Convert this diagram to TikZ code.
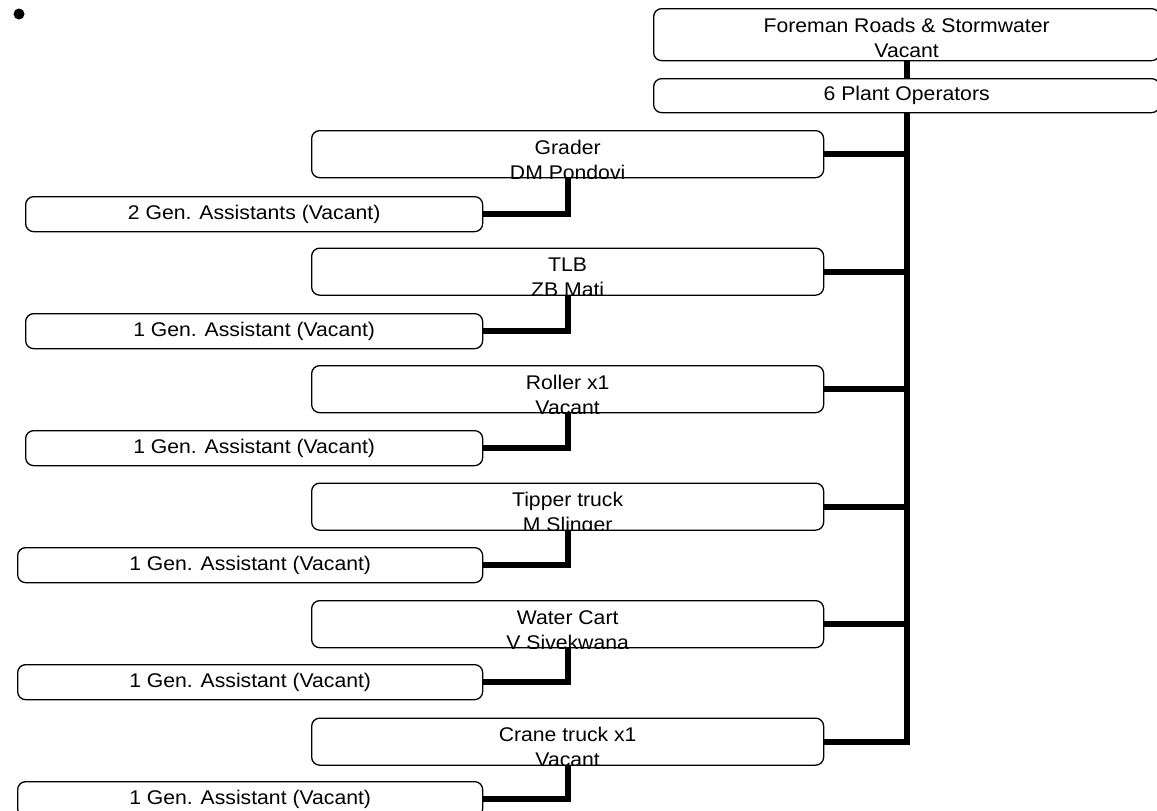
\documentclass[tikz,border=0pt]{standalone}
\usepackage{fontspec}
\setmainfont{Liberation Sans}[FakeStretch=1.07]
% two-line caption of an operator card, cut off by the card's lower edge
\newcommand\cardlines[3]{%
  \begin{scope}
    \clip (#1.north west) rectangle (#1.south east);
    \node[anchor=base, inner sep=0pt] at ([yshift=-24pt]#1.north) {#2};
    \node[anchor=base, inner sep=0pt] at ([yshift=-49pt]#1.north) {#3};
  \end{scope}}
\begin{document}
\begin{tikzpicture}[x=1pt, y=-1pt,
  font=\fontsize{19.8}{24}\selectfont,
  card/.style={draw, line width=1.3pt, rounded corners=8pt, inner sep=0pt, anchor=north west},
  opcard/.style={card, minimum width=512pt, minimum height=47pt},
  aide/.style={card, minimum width=#1, minimum height=35pt},
  link/.style={line width=6pt},
]
\useasboundingbox (0,0) rectangle (1157,811);

\node[circle, fill, inner sep=0pt, minimum size=11pt] (dot) at (19,14) {};

% head of section
\node[card, minimum width=506pt, minimum height=52pt] (foreman) at (653,8) {};
\node[anchor=base, inner sep=0pt] (foremanA) at ([yshift=-24pt]foreman.north) {Foreman Roads \& Stormwater};
\node[anchor=base, inner sep=0pt] (foremanB) at ([yshift=-49pt]foreman.north) {Vacant};
\node[card, minimum width=506pt, minimum height=34pt] (plant) at (653,78) {6 Plant Operators};

% operators
\node[opcard] (grader) at (311,130)   {};
\node[opcard] (tlb)    at (311,247.5) {};
\node[opcard] (roller) at (311,365)   {};
\node[opcard] (tipper) at (311,482.5) {};
\node[opcard] (water)  at (311,600)   {};
\node[opcard] (crane)  at (311,717.5) {};
\cardlines{grader}{Grader}{DM Pondovi}
\cardlines{tlb}{TLB}{ZB Mati}
\cardlines{roller}{Roller x1}{Vacant}
\cardlines{tipper}{Tipper truck}{M Slinger}
\cardlines{water}{Water Cart}{V Sivekwana}
\cardlines{crane}{Crane truck x1}{Vacant}

% general assistants
\node[aide=457pt] (ga1) at (25,196) {2 Gen. Assistants (Vacant)};
\node[aide=457pt] (ga2) at (25,313) {1 Gen. Assistant (Vacant)};
\node[aide=457pt] (ga3) at (25,430) {1 Gen. Assistant (Vacant)};
\node[aide=465pt] (ga4) at (17,547) {1 Gen. Assistant (Vacant)};
\node[aide=465pt] (ga5) at (17,664) {1 Gen. Assistant (Vacant)};
\node[aide=465pt] (ga6) at (17,781) {1 Gen. Assistant (Vacant)};

% connectors
\draw[link] (foreman.south) -- (plant.north);
\draw[link] (plant.south) |- (crane.east);
\foreach \op in {grader,tlb,roller,tipper,water}
  \draw[link] (\op.east) -- (\op.east -| plant.south);
\draw[link] (grader.south) |- (ga1.east);
\draw[link] (tlb.south)    |- (ga2.east);
\draw[link] (roller.south) |- (ga3.east);
\draw[link] (tipper.south) |- (ga4.east);
\draw[link] (water.south)  |- (ga5.east);
\draw[link] (crane.south)  |- (ga6.east);
\end{tikzpicture}
\end{document}
